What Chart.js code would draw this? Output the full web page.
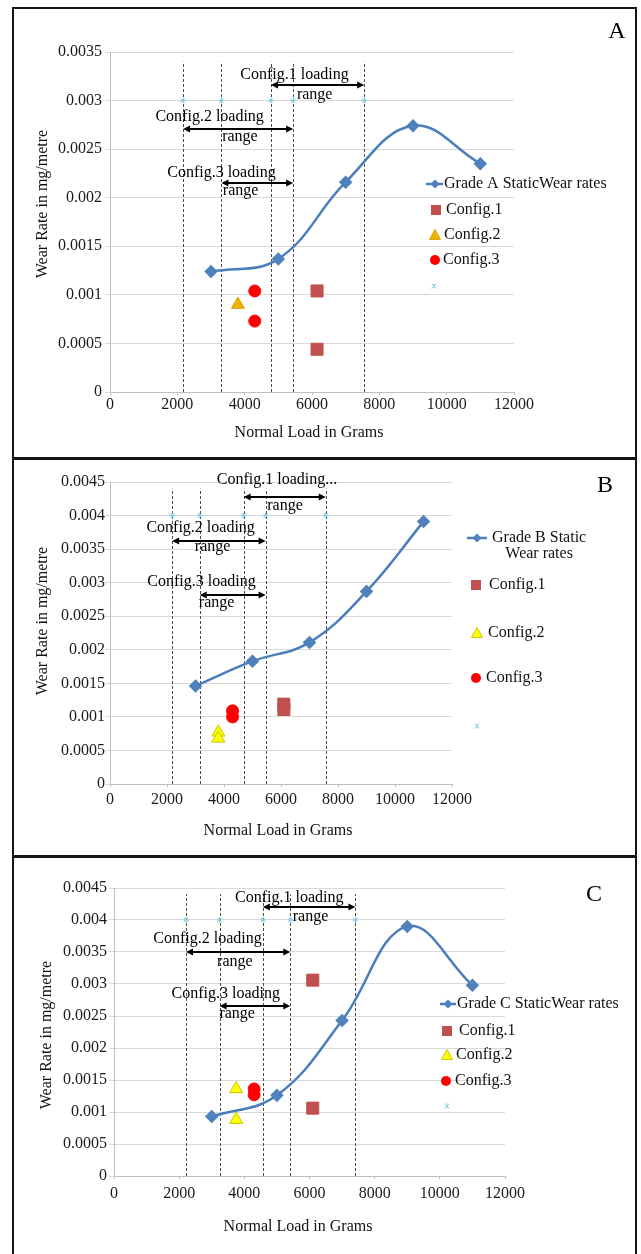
<!DOCTYPE html>
<html>
<head>
<meta charset="utf-8">
<script src="https://cdn.jsdelivr.net/npm/chart.js@4.4.0/dist/chart.umd.min.js"></script>
<style>
  html, body { margin: 0; padding: 0; background: #fff; overflow: hidden; }
  #fig { position: relative; width: 641px; height: 1254px; }
  .panel { position: absolute; left: 0; width: 641px; }
  .rule { position: absolute; background: #161616; }
  #frame { position: absolute; left: 12px; top: 7px; width: 625px; height: 1262px;
           border: 2px solid #161616; box-sizing: border-box; }
</style>
</head>
<body>
<div id="fig">
  <div class="panel" style="top:0"><canvas id="chartA" width="641" height="458"></canvas></div>
  <div class="panel" style="top:458px"><canvas id="chartB" width="641" height="398"></canvas></div>
  <div class="panel" style="top:856px"><canvas id="chartC" width="641" height="398"></canvas></div>
  <div id="frame"></div>
  <div class="rule" style="left:12px;top:457px;width:625px;height:3px"></div>
  <div class="rule" style="left:12px;top:855px;width:625px;height:3px"></div>
</div>
<script>
// ---------- data ----------
const loads = [3000, 5000, 7000, 9000, 11000];      // normal load, grams
const xTicks = [0, 2000, 4000, 6000, 8000, 10000, 12000];

const gradeA = [0.00124, 0.00137, 0.00216, 0.00274, 0.00235];
const gradeB = [0.00146, 0.00183, 0.00211, 0.00287, 0.00391];
const gradeC = [0.00093, 0.00126, 0.00243, 0.0039, 0.00298];

// [load, wear rate]
const config1A = [[6150, 0.00104], [6150, 0.00044]];
const config2A = [[3800, 0.0009]];
const config3A = [[4300, 0.00104], [4300, 0.00073]];

const config1B = [[6100, 0.00111], [6100, 0.00119]];
const config2B = [[3800, 0.00077], [3800, 0.00068]];
const config3B = [[4300, 0.00109], [4300, 0.001]];

const config1C = [[6100, 0.00306], [6100, 0.00106]];
const config2C = [[3750, 0.00136], [3750, 0.00088]];
const config3C = [[4300, 0.00136], [4300, 0.00127]];

// loading range boundaries (the dashed lines / star markers)
const boundsA = [2170, 3310, 4780, 5440, 7550];
const boundsB = [2180, 3150, 4690, 5460, 7570];
const boundsC = [2210, 3240, 4570, 5410, 7410];
const markLevel = { A: 0.003, B: 0.004, C: 0.004 };
const barTop = { A: 0.0034, B: 0.0044, C: 0.0044 };
const yMax = { A: 0.0035, B: 0.0045, C: 0.0045 };

// config ranges as [from boundary, to boundary]
const rangeIdx = [[2, 4], [0, 3], [1, 3]];
const rangeText = {
  A: ["Config.1 loading", "Config.2 loading", "Config.3 loading"],
  B: ["Config.1 loading...", "Config.2 loading", "Config.3 loading"],
  C: ["Config.1 loading", "Config.2 loading", "Config.3 loading"]
};
const legendText = {
  A: ["Grade A StaticWear rates", "Config.1", "Config.2", "Config.3", ""],
  B: ["Grade B Static\nWear rates", "Config.1", "Config.2", "Config.3", ""],
  C: ["Grade C StaticWear rates", "Config.1", "Config.2", "Config.3", ""]
};

// ---------- layout (pixels in each canvas, annotation anchors in data units) ----------
const FONT = '"Liberation Serif", "Times New Roman", serif';
const layouts = {
  A: {
    area: { left: 110, right: 514, top: 52, bottom: 392 }, h: 458,
    yPad: 3, xPad: 0, letter: [617, 32], yTitle: [43, 204], xTitle: [309, 433],
    legend: { line: [426, 443], rows: [[435, 444, 184], [436, 446, 210], [435, 444, 235], [435, 443, 260], [434, 0, 286]] },
    arrowY: [0.00316, 0.00271, 0.00215],
    loadPos: [[5480, 0.00327], [2960, 0.00283], [3310, 0.00226]],
    rangePos: [[6080, 0.00306], [3860, 0.00263], [3880, 0.00207]],
    c2: ["#EDB200", "#D9A200"]
  },
  B: {
    area: { left: 110, right: 452, top: 24, bottom: 326 }, h: 398,
    yPad: 0, xPad: 3, letter: [605, 28], yTitle: [43, 163], xTitle: [278, 373],
    legend: { line: [467, 487], rows: [[477, 492, 80], [476, 489, 127], [477, 488, 175], [476, 486, 220], [477, 0, 268]] },
    arrowY: [0.00428, 0.00362, 0.00282],
    loadPos: [[5860, 0.00454], [3180, 0.00382], [3210, 0.00301]],
    rangePos: [[6140, 0.00414], [3600, 0.00354], [3740, 0.0027]],
    c2: ["#FFFF00", "#C9C400"]
  },
  C: {
    area: { left: 114, right: 505, top: 32, bottom: 320 }, h: 398,
    yPad: 2, xPad: 5, letter: [594, 39], yTitle: [47, 179], xTitle: [298, 371],
    legend: { line: [440, 456], rows: [[448, 457, 148], [447, 459, 175], [447, 456, 199], [446, 455, 225], [447, 0, 250]] },
    arrowY: [0.0042, 0.0035, 0.00266],
    loadPos: [[5380, 0.00435], [2870, 0.00371], [3430, 0.00284]],
    rangePos: [[6030, 0.00405], [3710, 0.00335], [3780, 0.00253]],
    c2: ["#FFFF00", "#C9C400"]
  }
};

const BLUE = "#4A7EBB", RED1 = "#C0504D", RED3 = "#FF0000", STAR = "#8CCFE0";

function pts(pairs) { return pairs.map(p => ({ x: p[0], y: p[1] })); }

function drawMark(ctx, kind, x, y, r, fill, stroke) {
  ctx.save();
  ctx.fillStyle = fill; ctx.strokeStyle = stroke || fill; ctx.lineWidth = 1;
  ctx.beginPath();
  if (kind === "rect") ctx.rect(x - r, y - r, 2 * r, 2 * r);
  else if (kind === "triangle") { ctx.moveTo(x, y - r); ctx.lineTo(x + r, y + r * 0.8); ctx.lineTo(x - r, y + r * 0.8); ctx.closePath(); }
  else if (kind === "circle") ctx.arc(x, y, r, 0, Math.PI * 2);
  else if (kind === "diamond") { ctx.moveTo(x - r, y); ctx.lineTo(x, y - r); ctx.lineTo(x + r, y); ctx.lineTo(x, y + r); ctx.closePath(); }
  if (kind === "star") {
    ctx.moveTo(x - r, y - r); ctx.lineTo(x + r, y + r);
    ctx.moveTo(x - r, y + r); ctx.lineTo(x + r, y - r);
    ctx.moveTo(x, y - r); ctx.lineTo(x, y + r);
    ctx.stroke();
  } else { ctx.fill(); if (stroke) ctx.stroke(); }
  ctx.restore();
}

function arrow(ctx, x1, x2, y) {
  const h = 7, w = 3.5;
  ctx.save();
  ctx.strokeStyle = "#000"; ctx.fillStyle = "#000"; ctx.lineWidth = 2;
  ctx.beginPath(); ctx.moveTo(x1 + h - 1, y); ctx.lineTo(x2 - h + 1, y); ctx.stroke();
  ctx.beginPath(); ctx.moveTo(x1, y); ctx.lineTo(x1 + h, y - w); ctx.lineTo(x1 + h, y + w); ctx.closePath(); ctx.fill();
  ctx.beginPath(); ctx.moveTo(x2, y); ctx.lineTo(x2 - h, y - w); ctx.lineTo(x2 - h, y + w); ctx.closePath(); ctx.fill();
  ctx.restore();
}

function makePanel(id, key, grade, c1, c2, c3, bounds) {
  const L = layouts[key];
  const A = L.area;
  const canvas = document.getElementById(id);

  const decor = {
    id: "decor" + key,
    beforeDatasetsDraw(chart) {
      const ctx = chart.ctx, xs = chart.scales.x, ys = chart.scales.y;
      ctx.save();
      ctx.strokeStyle = "#4a4a4a"; ctx.lineWidth = 1; ctx.setLineDash([3, 2]);
      bounds.forEach(b => {
        const px = Math.round(xs.getPixelForValue(b)) + 0.5;
        ctx.beginPath();
        ctx.moveTo(px, ys.getPixelForValue(0));
        ctx.lineTo(px, ys.getPixelForValue(barTop[key]));
        ctx.stroke();
      });
      ctx.restore();
    },
    afterDatasetsDraw(chart) {
      const ctx = chart.ctx, xs = chart.scales.x, ys = chart.scales.y;
      ctx.save();
      ctx.font = "16px " + FONT; ctx.fillStyle = "#000";
      ctx.textAlign = "center"; ctx.textBaseline = "middle";
      // loading range arrows + text
      rangeIdx.forEach((r, i) => {
        const yy = Math.round(ys.getPixelForValue(L.arrowY[i]));
        arrow(ctx, xs.getPixelForValue(bounds[r[0]]), xs.getPixelForValue(bounds[r[1]]), yy);
        ctx.fillText(rangeText[key][i], xs.getPixelForValue(L.loadPos[i][0]), ys.getPixelForValue(L.loadPos[i][1]));
        ctx.fillText("range", xs.getPixelForValue(L.rangePos[i][0]), ys.getPixelForValue(L.rangePos[i][1]));
      });
      // axis titles
      ctx.fillStyle = "#111";
      ctx.fillText("Normal Load in Grams", L.xTitle[0], L.xTitle[1]);
      ctx.save();
      ctx.translate(L.yTitle[0], L.yTitle[1]); ctx.rotate(-Math.PI / 2);
      ctx.fillText("Wear Rate in mg/metre", 0, 0);
      ctx.restore();
      // panel letter
      ctx.font = "24px " + FONT; ctx.fillStyle = "#000";
      ctx.fillText(key, L.letter[0], L.letter[1]);
      // legend
      ctx.font = "16px " + FONT; ctx.fillStyle = "#111"; ctx.textAlign = "left";
      const lg = L.legend, rows = lg.rows, texts = legendText[key];
      ctx.save();
      ctx.strokeStyle = BLUE; ctx.lineWidth = 2.5;
      ctx.beginPath(); ctx.moveTo(lg.line[0], rows[0][2]); ctx.lineTo(lg.line[1], rows[0][2]); ctx.stroke();
      ctx.restore();
      drawMark(ctx, "diamond", rows[0][0], rows[0][2], 4.5, "#4F81BD");
      const lines0 = texts[0].split("\n");
      ctx.fillText(lines0[0], rows[0][1], rows[0][2]);
      if (lines0[1]) {
        const w0 = ctx.measureText(lines0[0]).width;
        ctx.textAlign = "center";
        ctx.fillText(lines0[1], rows[0][1] + w0 / 2, rows[0][2] + 16);
        ctx.textAlign = "left";
      }
      drawMark(ctx, "rect", rows[1][0], rows[1][2], 5, RED1);
      ctx.fillText(texts[1], rows[1][1], rows[1][2]);
      drawMark(ctx, "triangle", rows[2][0], rows[2][2], 5.5, L.c2[0], L.c2[1]);
      ctx.fillText(texts[2], rows[2][1], rows[2][2]);
      drawMark(ctx, "circle", rows[3][0], rows[3][2], 5, RED3);
      ctx.fillText(texts[3], rows[3][1], rows[3][2]);
      drawMark(ctx, "star", rows[4][0], rows[4][2], 2.5, null, STAR);
      ctx.restore();
    }
  };

  return new Chart(canvas, {
    type: "scatter",
    data: {
      datasets: [
        { label: legendText[key][0], data: grade.map((y, i) => ({ x: loads[i], y })),
          showLine: true, tension: 0.4, borderColor: BLUE, borderWidth: 2.5,
          pointStyle: "rectRot", pointRadius: 5, pointBackgroundColor: "#4F81BD", pointBorderColor: "#4F81BD" },
        { label: "Config.1", data: pts(c1), pointStyle: "rect", pointRadius: 8.5,
          pointBackgroundColor: RED1, pointBorderColor: RED1 },
        { label: "Config.2", data: pts(c2), pointStyle: "triangle", pointRadius: 7.5,
          pointBackgroundColor: L.c2[0], pointBorderColor: L.c2[1], pointBorderWidth: 1 },
        { label: "Config.3", data: pts(c3), pointStyle: "circle", pointRadius: 6,
          pointBackgroundColor: RED3, pointBorderColor: RED3 },
        { label: "", data: bounds.map(b => ({ x: b, y: markLevel[key] })), pointStyle: "star",
          pointRadius: 3, pointBackgroundColor: STAR, pointBorderColor: STAR, pointBorderWidth: 1 }
      ]
    },
    options: {
      responsive: false, animation: false, events: [],
      layout: { padding: { left: 0, top: A.top, right: 641 - A.right, bottom: 0 } },
      plugins: { legend: { display: false }, tooltip: { enabled: false } },
      scales: {
        x: {
          type: "linear", min: 0, max: 12000,
          afterBuildTicks: s => { s.ticks = xTicks.map(v => ({ value: v })); },
          afterFit: s => { s.height = L.h - A.bottom; },
          ticks: { color: "#1a1a1a", font: { family: FONT, size: 16 }, padding: L.xPad,
                   maxRotation: 0, autoSkip: false, callback: v => String(v) },
          grid: { display: true, drawOnChartArea: false, drawTicks: true, tickLength: 3, color: "#bfbfbf" },
          border: { color: "#bfbfbf" }
        },
        y: {
          min: 0, max: yMax[key],
          afterFit: s => { s.width = A.left; },
          ticks: { stepSize: 0.0005, color: "#1a1a1a", font: { family: FONT, size: 16 }, padding: L.yPad,
                   callback: v => String(+(+v).toFixed(4)) },
          grid: { color: "#d9d9d9", tickLength: 5 },
          border: { color: "#bfbfbf" }
        }
      }
    },
    plugins: [decor]
  });
}

window.addEventListener("DOMContentLoaded", () => {
  makePanel("chartA", "A", gradeA, config1A, config2A, config3A, boundsA);
  makePanel("chartB", "B", gradeB, config1B, config2B, config3B, boundsB);
  makePanel("chartC", "C", gradeC, config1C, config2C, config3C, boundsC);
});
</script>
</body>
</html>
